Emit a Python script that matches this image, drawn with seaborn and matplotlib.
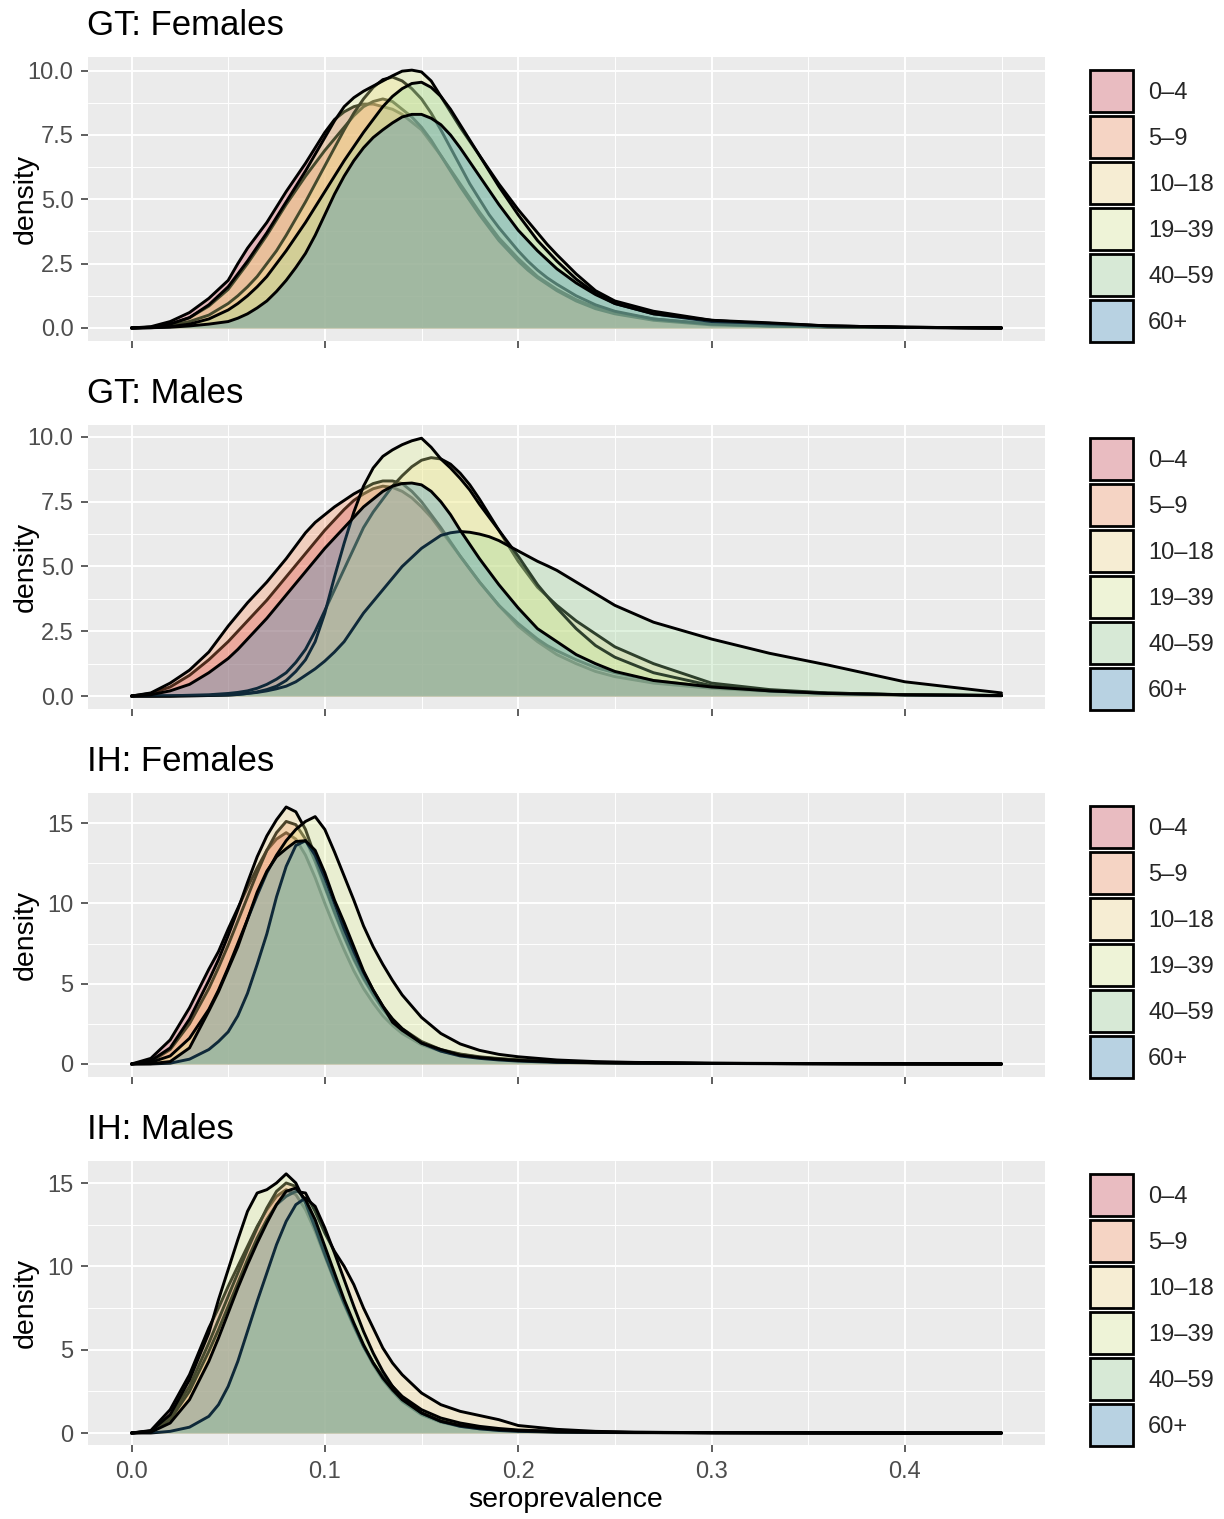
import matplotlib
matplotlib.use("Agg")
import matplotlib.pyplot as plt
from matplotlib.patches import Patch
from matplotlib.colors import to_rgb
import seaborn as sns

# age groups and fill colours (ColorBrewer Spectral, 6 classes)
AGE_GROUPS = ["0–4", "5–9", "10–18", "19–39", "40–59", "60+"]
COLORS = ["#D53E4F", "#FC8D59", "#FEE08B", "#E6F598", "#99D594", "#3288BD"]
TITLES = ["GT: Females", "GT: Males", "IH: Females", "IH: Males"]

# seroprevalence grids
X_GT = [0, .01, .02, .03, .04,
        .05, .055, .06, .065, .07, .075, .08, .085, .09, .095,
        .10, .105, .11, .115, .12, .125, .13, .135, .14, .145,
        .15, .155, .16, .165, .17, .175, .18, .185, .19, .195,
        .20, .205, .21, .215, .22,
        .23, .24, .25, .27, .30, .33, .36, .40, .45]
X_IH = [0, .01, .02, .03, .04, .045, .05, .055, .06, .065, .07, .075, .08, .085, .09,
        .095, .10, .105, .11, .115, .12, .125, .13, .135, .14, .15, .16, .17, .18, .19,
        .20, .22, .24, .26, .30, .35, .40, .45]

# GT: Females densities (one list per age group)
gt_f_0_4 = [0, .05, .25, .6, 1.15,
            1.85, 2.5, 3.1, 3.6, 4.1, 4.7, 5.3, 5.85, 6.4, 7.0,
            7.6, 8.1, 8.4, 8.6, 8.7, 8.7, 8.6, 8.5, 8.3, 8.0,
            7.7, 7.2, 6.7, 6.15, 5.6, 5.05, 4.5, 4.0, 3.5, 3.1,
            2.7, 2.35, 2.0, 1.75, 1.5,
            1.1, .8, .6, .35, .15, .08, .04, .02, 0]
gt_f_5_9 = [0, .03, .15, .4, .85,
            1.5, 2.0, 2.5, 3.05, 3.6, 4.2, 4.8, 5.35, 5.9, 6.4,
            6.9, 7.35, 7.8, 8.25, 8.6, 8.8, 8.9, 8.8, 8.5, 8.2,
            7.8, 7.3, 6.7, 6.1, 5.5, 4.95, 4.4, 3.9, 3.4, 3.0,
            2.6, 2.25, 1.95, 1.7, 1.45,
            1.05, .75, .55, .3, .12, .07, .04, .02, 0]
gt_f_10_18 = [0, .02, .1, .25, .5,
              .95, 1.25, 1.6, 2.0, 2.5, 3.0, 3.6, 4.25, 4.9, 5.6,
              6.3, 7.0, 7.7, 8.35, 8.9, 9.35, 9.65, 9.75, 9.6, 9.3,
              8.9, 8.35, 7.7, 7.0, 6.3, 5.6, 5.0, 4.4, 3.9, 3.45,
              3.0, 2.6, 2.25, 1.95, 1.7,
              1.25, .9, .65, .35, .15, .08, .05, .02, 0]
gt_f_19_39 = [0, .03, .15, .4, .9,
              1.6, 2.1, 2.6, 3.15, 3.7, 4.3, 4.9, 5.5, 6.1, 6.75,
              7.4, 8.05, 8.6, 8.95, 9.2, 9.4, 9.6, 9.8, 9.98, 10.02,
              9.95, 9.6, 9.0, 8.4, 7.8, 7.25, 6.7, 6.15, 5.6, 5.1,
              4.6, 4.15, 3.7, 3.25, 2.85,
              2.1, 1.45, 1.05, .65, .3, .15, .08, .03, 0]
gt_f_40_59 = [0, .01, .05, .15, .35,
              .7, .95, 1.25, 1.6, 2.0, 2.5, 3.0, 3.55, 4.1, 4.7,
              5.3, 5.9, 6.5, 7.05, 7.6, 8.1, 8.6, 9.0, 9.3, 9.5,
              9.55, 9.35, 9.0, 8.5, 7.9, 7.3, 6.7, 6.1, 5.5, 4.95,
              4.4, 3.9, 3.4, 3.0, 2.6,
              1.9, 1.35, .95, .55, .25, .18, .08, .03, 0]
gt_f_60 = [0, .01, .03, .08, .15,
           .25, .38, .55, .78, 1.05, 1.42, 1.85, 2.35, 2.9, 3.6,
           4.4, 5.2, 5.9, 6.5, 7.0, 7.4, 7.7, 7.97, 8.2, 8.3,
           8.3, 8.15, 7.9, 7.5, 7.0, 6.45, 5.9, 5.35, 4.8, 4.3,
           3.8, 3.4, 3.0, 2.65, 2.3,
           1.75, 1.3, .95, .55, .3, .2, .08, .03, 0]

# GT: Males
gt_m_0_4 = [0, .1, .35, .8, 1.4,
            2.1, 2.5, 2.9, 3.3, 3.7, 4.15, 4.6, 5.05, 5.5, 5.95,
            6.4, 6.8, 7.2, 7.55, 7.8, 8.0, 8.1, 8.05, 7.9, 7.65,
            7.3, 6.9, 6.4, 5.9, 5.4, 4.9, 4.4, 3.95, 3.5, 3.1,
            2.7, 2.4, 2.1, 1.85, 1.6,
            1.25, .95, .75, .5, .3, .18, .1, .05, .02]
gt_m_5_9 = [0, .12, .5, 1.0, 1.7,
            2.7, 3.15, 3.6, 4.0, 4.4, 4.85, 5.3, 5.8, 6.3, 6.7,
            7.0, 7.3, 7.55, 7.8, 8.0, 8.2, 8.3, 8.3, 8.2, 7.9,
            7.5, 7.0, 6.5, 5.95, 5.4, 4.9, 4.4, 3.95, 3.5, 3.15,
            2.8, 2.5, 2.2, 1.95, 1.75,
            1.4, 1.1, .9, .6, .35, .2, .12, .05, .02]
gt_m_10_18 = [0, 0, .01, .03, .05,
              .1, .14, .2, .3, .45, .65, .9, 1.3, 1.8, 2.5,
              3.3, 4.1, 4.9, 5.7, 6.5, 7.1, 7.6, 8.1, 8.5, 8.85,
              9.1, 9.2, 9.15, 8.95, 8.6, 8.15, 7.6, 7.0, 6.4, 5.8,
              5.2, 4.7, 4.2, 3.85, 3.5,
              2.9, 2.4, 1.9, 1.25, .5, .25, .12, .05, .02]
gt_m_19_39 = [0, 0, 0, .01, .02,
              .04, .06, .1, .16, .25, .38, .6, .95, 1.4, 2.1,
              3.2, 4.6, 5.9, 7.1, 8.1, 8.8, 9.25, 9.5, 9.7, 9.85,
              9.95, 9.6, 9.15, 8.8, 8.4, 7.95, 7.4, 6.9, 6.4, 5.9,
              5.4, 4.85, 4.3, 3.85, 3.4,
              2.6, 1.95, 1.5, .9, .4, .2, .1, .04, .01]
gt_m_40_59 = [0, 0, 0, .01, .02,
              .04, .06, .1, .14, .2, .28, .38, .55, .8, 1.05,
              1.35, 1.7, 2.1, 2.65, 3.2, 3.65, 4.1, 4.55, 5.0, 5.35,
              5.7, 5.95, 6.2, 6.3, 6.35, 6.32, 6.25, 6.15, 6.0, 5.8,
              5.6, 5.4, 5.2, 5.03, 4.85,
              4.4, 3.95, 3.5, 2.85, 2.2, 1.65, 1.2, .55, .12]
gt_m_60 = [0, .05, .2, .45, .9,
           1.45, 1.8, 2.2, 2.6, 3.0, 3.45, 3.9, 4.35, 4.8, 5.25,
           5.7, 6.1, 6.5, 6.9, 7.3, 7.6, 7.9, 8.1, 8.2, 8.22,
           8.15, 7.9, 7.5, 7.0, 6.4, 5.85, 5.3, 4.8, 4.3, 3.85,
           3.4, 3.0, 2.6, 2.35, 2.1,
           1.6, 1.25, .95, .6, .35, .2, .1, .05, .02]

# IH: Females
ih_f_0_4 = [0, .35, 1.5, 3.5, 5.9, 7.0, 8.4, 9.7, 11.0, 12.2, 13.3, 14.0, 14.4, 14.0, 13.0,
            11.6, 10.0, 8.5, 7.1, 5.8, 4.7, 3.8, 3.0, 2.4, 1.9, 1.2, 0.8, 0.55, 0.4, 0.3,
            0.22, 0.13, 0.08, 0.05, 0.03, 0.02, 0.01, 0]
ih_f_5_9 = [0, .15, .9, 2.5, 4.7, 6.0, 7.4, 8.9, 10.4, 11.9, 13.3, 14.4, 15.1, 14.9, 14.0,
            12.6, 11.0, 9.4, 7.9, 6.5, 5.3, 4.3, 3.4, 2.7, 2.1, 1.35, 0.85, 0.6, 0.42, 0.32,
            0.24, 0.14, 0.09, 0.06, 0.03, 0.02, 0.01, 0]
ih_f_10_18 = [0, .2, 1.0, 2.8, 5.2, 6.5, 8.0, 9.6, 11.3, 12.9, 14.2, 15.2, 16.0, 15.7, 14.6,
              12.9, 11.1, 9.5, 8.0, 6.6, 5.4, 4.4, 3.5, 2.8, 2.2, 1.4, 0.9, 0.62, 0.45, 0.34,
              0.26, 0.15, 0.1, 0.07, 0.04, 0.02, 0.01, 0]
ih_f_19_39 = [0, .1, .5, 1.6, 3.4, 4.6, 6.0, 7.5, 9.0, 10.5, 11.9, 13.0, 13.9, 14.6, 15.1,
              15.4, 14.6, 13.2, 11.7, 10.2, 8.6, 7.3, 6.2, 5.2, 4.3, 2.9, 1.9, 1.25, 0.85, 0.6,
              0.45, 0.25, 0.15, 0.1, 0.05, 0.03, 0.01, 0]
ih_f_40_59 = [0, 0, .05, .3, .9, 1.4, 2.0, 3.0, 4.4, 6.2, 8.1, 10.4, 12.3, 13.6, 13.9,
              13.0, 11.6, 10.0, 8.4, 7.0, 5.7, 4.6, 3.6, 2.8, 2.2, 1.3, 0.8, 0.5, 0.35, 0.25,
              0.18, 0.1, 0.07, 0.05, 0.03, 0.02, 0.01, 0]
ih_f_60 = [0, .02, .15, 1.0, 3.3, 4.5, 5.9, 7.3, 9.0, 10.7, 12.0, 12.9, 13.4, 13.85, 13.9,
           13.3, 11.9, 10.2, 8.8, 7.3, 5.8, 4.6, 3.6, 2.6, 2.1, 1.3, 0.9, 0.55, 0.4, 0.3,
           0.22, 0.13, 0.08, 0.06, 0.04, 0.02, 0.01, 0]

# IH: Males
ih_m_0_4 = [0, .15, 1.4, 3.5, 6.3, 7.5, 8.8, 10.0, 11.2, 12.4, 13.4, 14.2, 14.6, 14.3, 13.4,
            12.1, 10.6, 9.1, 7.7, 6.4, 5.2, 4.2, 3.3, 2.6, 2.0, 1.2, 0.75, 0.45, 0.3, 0.2,
            0.13, 0.07, 0.04, 0.03, 0.02, 0.01, 0, 0]
ih_m_5_9 = [0, .1, 1.0, 2.8, 5.4, 6.8, 8.2, 9.6, 11.0, 12.3, 13.5, 14.5, 15.0, 14.8, 13.9,
            12.5, 10.9, 9.3, 7.8, 6.4, 5.2, 4.1, 3.2, 2.5, 1.9, 1.1, 0.65, 0.4, 0.25, 0.17,
            0.12, 0.06, 0.04, 0.03, 0.02, 0.01, 0, 0]
ih_m_10_18 = [0, .08, .8, 2.5, 4.9, 6.2, 7.6, 9.0, 10.4, 11.7, 12.8, 13.7, 14.2, 14.5, 14.4,
              13.3, 12.0, 10.9, 10.0, 8.9, 7.5, 6.3, 5.1, 4.2, 3.5, 2.4, 1.7, 1.3, 1.05, 0.8,
              0.45, 0.22, 0.1, 0.05, 0.02, 0.01, 0, 0]
ih_m_19_39 = [0, .12, 1.1, 3.2, 6.0, 8.0, 9.8, 11.6, 13.3, 14.4, 14.6, 15.0, 15.55, 15.0, 13.8,
              12.3, 10.7, 9.2, 7.8, 6.5, 5.2, 4.2, 3.4, 2.8, 2.2, 1.4, 0.9, 0.6, 0.4, 0.27,
              0.18, 0.1, 0.06, 0.04, 0.02, 0.01, 0, 0]
ih_m_40_59 = [0, 0, .1, .35, 1.0, 1.7, 2.8, 4.3, 6.1, 7.9, 9.6, 11.3, 12.7, 13.7, 14.1,
              13.6, 12.3, 10.8, 9.2, 7.6, 6.1, 4.8, 3.7, 2.8, 2.1, 1.2, 0.7, 0.4, 0.25, 0.15,
              0.1, 0.05, 0.03, 0.02, 0.01, 0, 0, 0]
ih_m_60 = [0, .05, .6, 2.0, 4.3, 5.7, 7.2, 8.7, 10.1, 11.4, 12.6, 13.7, 14.5, 14.7, 14.0,
           12.8, 11.2, 9.6, 8.0, 6.6, 5.3, 4.2, 3.3, 2.6, 2.0, 1.2, 0.7, 0.45, 0.3, 0.2,
           0.14, 0.08, 0.05, 0.03, 0.02, 0.01, 0, 0]

PANELS = [
    (X_GT, [gt_f_0_4, gt_f_5_9, gt_f_10_18, gt_f_19_39, gt_f_40_59, gt_f_60]),
    (X_GT, [gt_m_0_4, gt_m_5_9, gt_m_10_18, gt_m_19_39, gt_m_40_59, gt_m_60]),
    (X_IH, [ih_f_0_4, ih_f_5_9, ih_f_10_18, ih_f_19_39, ih_f_40_59, ih_f_60]),
    (X_IH, [ih_m_0_4, ih_m_5_9, ih_m_10_18, ih_m_19_39, ih_m_40_59, ih_m_60]),
]


def blend(c, a=0.3, bg="#F2F2F2"):
    c, bg = to_rgb(c), to_rgb(bg)
    return tuple(a * ci + (1 - a) * bi for ci, bi in zip(c, bg))


if __name__ == "__main__":
    sns.set_theme(style="darkgrid")
    plt.rcParams["font.family"] = ["Liberation Sans", "DejaVu Sans"]

    W, H = 1224, 1519
    fig = plt.figure(figsize=(W / 100, H / 100), dpi=100)
    fig.patch.set_facecolor("white")

    left, pw, ph = 88, 957, 284
    tops = [57, 425, 793, 1161]
    ylims = [(-0.506, 10.53), (-0.5, 10.46), (-0.81, 16.87), (-0.72, 16.32)]

    for k, (xs, curves) in enumerate(PANELS):
        top = tops[k]
        ax = fig.add_axes([left / W, 1 - (top + ph) / H, pw / W, ph / H])
        ax.set_facecolor("#EBEBEB")
        for sp in ax.spines.values():
            sp.set_visible(False)

        for i, (ys, col) in enumerate(zip(curves, COLORS)):
            ax.fill_between(xs, ys, 0, color=col, alpha=0.3, linewidth=0, zorder=2 + 2 * i)
            sns.lineplot(x=xs, y=ys, ax=ax, color="black", linewidth=2.1,
                         estimator=None, sort=False, zorder=3 + 2 * i,
                         solid_joinstyle="round")

        ax.set_xlim(-0.0225, 0.4725)
        ax.set_ylim(*ylims[k])
        ax.set_xticks([0, 0.1, 0.2, 0.3, 0.4])
        ax.set_xticks([0.05, 0.15, 0.25, 0.35, 0.45], minor=True)
        if k < 2:
            ax.set_yticks([0, 2.5, 5, 7.5, 10])
            ax.set_yticklabels(["0.0", "2.5", "5.0", "7.5", "10.0"])
            ax.set_yticks([1.25, 3.75, 6.25, 8.75], minor=True)
        else:
            ax.set_yticks([0, 5, 10, 15])
            ax.set_yticklabels(["0", "5", "10", "15"])
            ax.set_yticks([2.5, 7.5, 12.5], minor=True)
        if k == 3:
            ax.set_xticklabels(["0.0", "0.1", "0.2", "0.3", "0.4"])
        else:
            ax.set_xticklabels([])

        ax.set_axisbelow(True)
        ax.grid(which="major", color="white", linewidth=1.4)
        ax.grid(which="minor", color="white", linewidth=0.7)
        ax.tick_params(which="major", length=5, width=1.1, color="#333333",
                       labelcolor="#4D4D4D", labelsize=17, bottom=True, left=True)
        ax.tick_params(axis="x", pad=6.5)
        ax.tick_params(axis="y", pad=5.5)
        ax.tick_params(which="minor", length=0)
        ax.set_xlabel("")
        ax.set_ylabel("")

        ax.text(-0.001, 1 + 22 / ph, TITLES[k], transform=ax.transAxes,
                fontsize=25, ha="left", va="baseline", color="black")
        fig.text(25.5 / W, 1 - (top + ph / 2) / H, "density", rotation=90,
                 ha="center", va="center", fontsize=20.5, color="black")

        handles = [Patch(facecolor=blend(c), edgecolor="black", linewidth=2.0) for c in COLORS]
        ax.legend(handles, AGE_GROUPS, loc="center left",
                  bbox_to_anchor=((1090 - left) / pw, 0.474), frameon=False,
                  borderpad=0, borderaxespad=0, handlelength=1.82, handleheight=2.36,
                  handletextpad=0.64, labelspacing=0.17, fontsize=17)

    fig.text(566 / W, 1 - 1500 / H, "seroprevalence", ha="center", va="center",
             fontsize=20.5, color="black")

    fig.savefig("out.png", dpi=100)
